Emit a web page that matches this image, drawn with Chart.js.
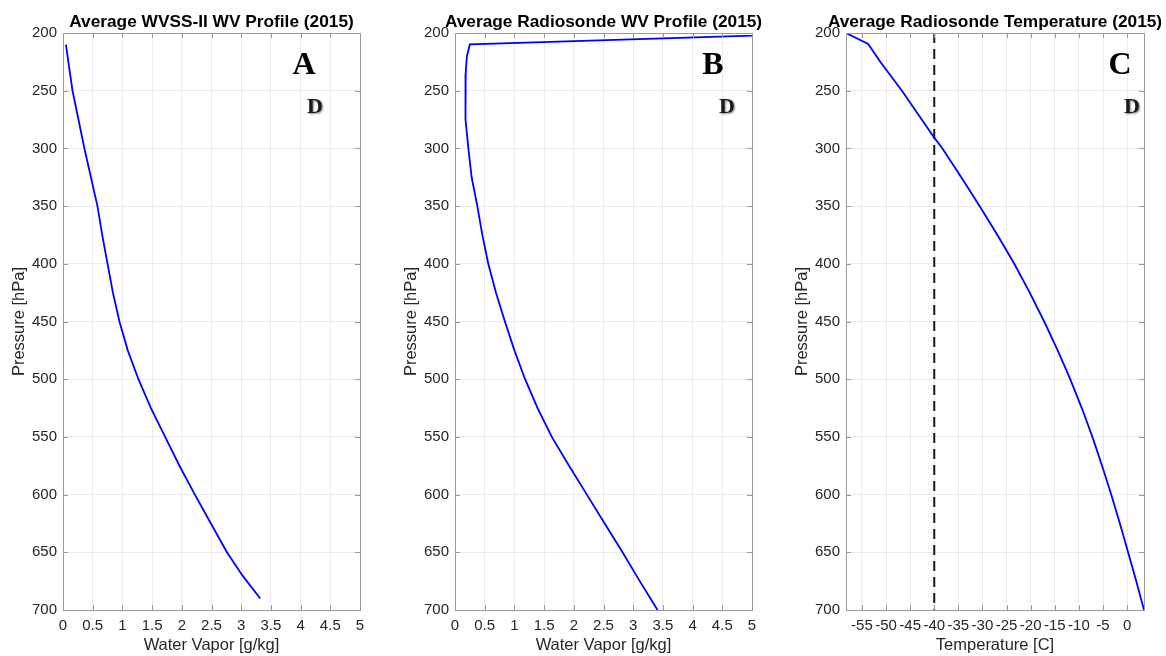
<!DOCTYPE html>
<html lang="en">
<head>
<meta charset="utf-8">
<title>Average profiles 2015</title>
<script src="https://cdn.jsdelivr.net/npm/chart.js@4.4.1/dist/chart.umd.min.js"></script>
<style>
    body { margin: 0; background: #fff; }
    #Page { position: relative; width: 1166px; height: 656px; }
    #Page canvas { position: absolute; left: 0; top: 0; }
</style>
</head>
<body>
<div id="Page">
    <canvas id="chartA" width="1166" height="656"></canvas>
    <canvas id="chartB" width="1166" height="656"></canvas>
    <canvas id="chartC" width="1166" height="656"></canvas>
</div>
<script>
// pressure levels [hPa] and values
const pressureA = [210, 225, 250, 275, 300, 325, 350, 375, 400, 425, 450, 475, 500, 525, 550, 575, 600, 625, 650, 670, 690];
const wvssA     = [0.05, 0.09, 0.16, 0.26, 0.36, 0.47, 0.58, 0.66, 0.75, 0.84, 0.95, 1.09, 1.27, 1.48, 1.72, 1.96, 2.22, 2.49, 2.76, 3.02, 3.32];

const pressureB = [200, 209.9, 220, 235, 250, 262, 275, 300, 325, 350, 375, 400, 425, 450, 475, 500, 525, 550, 575, 600, 625, 650, 675, 700];
const radWvB    = [6.4, 0.25, 0.2, 0.18, 0.175, 0.17, 0.185, 0.225, 0.28, 0.376, 0.46, 0.56, 0.69, 0.84, 1.0, 1.18, 1.39, 1.63, 1.92, 2.22, 2.52, 2.82, 3.11, 3.41];

const pressureC = [200, 209.5, 225, 250, 275, 290.7, 300, 325, 350, 375, 400, 425, 450, 475, 500, 525, 550, 575, 600, 625, 650, 675, 700];
const radTempC  = [-58.3, -53.7, -51.2, -46.7, -42.6, -40, -38.3, -34.4, -30.6, -26.9, -23.4, -20.2, -17.2, -14.4, -11.8, -9.4, -7.2, -5.2, -3.3, -1.5, 0.2, 1.9, 3.5];

const refTemp     = [-40, -40];
const refPressure = [200, 700];

const pressureTicks = [200, 250, 300, 350, 400, 450, 500, 550, 600, 650, 700];
const wvTicks       = [0, 0.5, 1, 1.5, 2, 2.5, 3, 3.5, 4, 4.5, 5];
const tempTicks     = [-55, -50, -45, -40, -35, -30, -25, -20, -15, -10, -5, 0];

const titles = ['Average WVSS-II WV Profile (2015)', 'Average Radiosonde WV Profile (2015)', 'Average Radiosonde Temperature (2015)'];
const panelLetters = ['A', 'B', 'C'];

const SANS = "'Liberation Sans', Arial, sans-serif";
const SERIF = "'Liberation Serif', 'Times New Roman', serif";
const frameColor = '#9a9a9a';

function toPoints(xs, ys) {
    return xs.map((x, i) => ({ x: x, y: ys[i] }));
}

// frame, inward ticks, title and the letters
const decorPlugin = {
    id: 'decor',
    afterDraw(chart, args, opts) {
        const ctx = chart.ctx;
        const a = chart.chartArea;
        const xs = chart.scales.x, ys = chart.scales.y;
        ctx.save();
        ctx.strokeStyle = frameColor;
        ctx.lineWidth = 1;
        ctx.beginPath();
        xs.ticks.forEach(t => {
            const px = Math.round(xs.getPixelForValue(t.value)) + 0.5;
            ctx.moveTo(px, a.bottom); ctx.lineTo(px, a.bottom - 5);
            ctx.moveTo(px, a.top); ctx.lineTo(px, a.top + 5);
        });
        ys.ticks.forEach(t => {
            const py = Math.round(ys.getPixelForValue(t.value)) + 0.5;
            ctx.moveTo(a.left, py); ctx.lineTo(a.left + 5, py);
            ctx.moveTo(a.right, py); ctx.lineTo(a.right - 5, py);
        });
        ctx.stroke();
        ctx.strokeRect(Math.round(a.left) + 0.5, Math.round(a.top) + 0.5, Math.round(a.right - a.left), Math.round(a.bottom - a.top));

        ctx.fillStyle = '#000';
        ctx.font = 'bold 17.3px ' + SANS;
        ctx.textAlign = 'center';
        ctx.textBaseline = 'alphabetic';
        ctx.fillText(opts.title, (a.left + a.right) / 2, 26.5);

        ctx.font = 'bold 32px ' + SERIF;
        ctx.fillText(opts.letter, a.right - opts.letterDx, 74);

        ctx.font = 'bold 22px ' + SERIF;
        ctx.fillStyle = '#1a1a1a';
        ctx.shadowColor = 'rgba(0,0,0,0.5)';
        ctx.shadowBlur = 2;
        ctx.shadowOffsetX = 1;
        ctx.shadowOffsetY = 1;
        ctx.fillText('D', a.right - opts.dDx, 113);
        ctx.restore();
    }
};

function makePanel(id, idx, datasets, xMin, xMax, xTicks, xLabel, padLeft, padRight, letterDx, dDx) {
    return new Chart(document.getElementById(id), {
        type: 'scatter',
        data: { datasets: datasets },
        options: {
            responsive: false,
            animation: false,
            layout: { padding: { left: padLeft, right: padRight, top: 33, bottom: 0 } },
            plugins: {
                legend: { display: false },
                tooltip: { enabled: false },
                decor: { title: titles[idx], letter: panelLetters[idx], letterDx: letterDx, dDx: dDx }
            },
            scales: {
                x: {
                    type: 'linear',
                    min: xMin, max: xMax,
                    afterBuildTicks: s => { s.ticks = xTicks.map(v => ({ value: v })); },
                    afterFit: s => { s.height = 46; },
                    grid: { color: '#ebebeb', drawTicks: false, tickLength: 0 },
                    border: { display: false },
                    ticks: {
                        autoSkip: false, maxRotation: 0, padding: 7,
                        color: '#262626', font: { family: SANS, size: 15 },
                        callback: v => String(v)
                    },
                    title: {
                        display: true, text: xLabel, color: '#262626',
                        font: { family: SANS, size: 16.5, lineHeight: 1.2 },
                        padding: { top: 0, bottom: 1 }
                    }
                },
                y: {
                    type: 'linear',
                    min: 200, max: 700, reverse: true,
                    afterBuildTicks: s => { s.ticks = pressureTicks.map(v => ({ value: v })); },
                    afterFit: s => { s.width = 57; },
                    grid: { color: '#ebebeb', drawTicks: false, tickLength: 0 },
                    border: { display: false },
                    ticks: {
                        autoSkip: false, padding: 6,
                        color: '#262626', font: { family: SANS, size: 15 },
                        callback: v => String(v)
                    },
                    title: {
                        display: true, text: 'Pressure [hPa]', color: '#262626',
                        font: { family: SANS, size: 16.5, lineHeight: 1.2 },
                        padding: { top: 4, bottom: 0 }
                    }
                }
            }
        },
        plugins: [decorPlugin]
    });
}

function profile(xs, ys) {
    return {
        data: toPoints(xs, ys),
        showLine: true,
        borderColor: '#0000ff',
        borderWidth: 1.8,
        pointRadius: 0,
        tension: 0
    };
}

makePanel('chartA', 0, [profile(wvssA, pressureA)], 0, 5, wvTicks, 'Water Vapor [g/kg]', 6, 806, 56, 45);
makePanel('chartB', 1, [profile(radWvB, pressureB)], 0, 5, wvTicks, 'Water Vapor [g/kg]', 398, 414, 39, 25);
makePanel('chartC', 2, [
    profile(radTempC, pressureC),
    {
        data: toPoints(refTemp, refPressure),
        showLine: true,
        borderColor: '#1a1a1a',
        borderWidth: 2,
        borderDash: [10, 6],
        pointRadius: 0
    }
], -58.3, 3.5, tempTicks, 'Temperature [C]', 789, 22, 24, 12);
</script>
</body>
</html>
